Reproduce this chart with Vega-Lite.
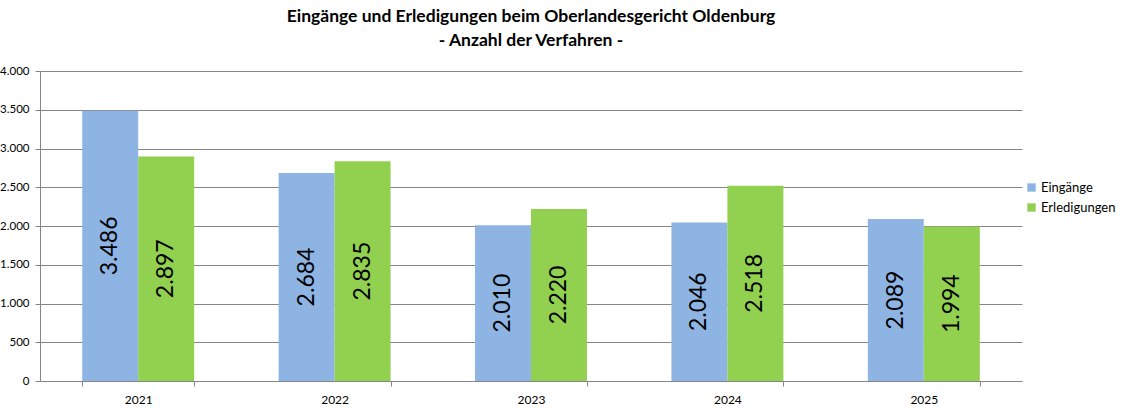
{
  "$schema": "https://vega.github.io/schema/vega-lite/v6.json",
  "autosize": {"type": "none"},
  "padding": {"left": 40, "top": 71, "right": 103, "bottom": 27},
  "width": 982,
  "height": 310,
  "title": {
    "text": ["Eingänge und Erledigungen beim Oberlandesgericht Oldenburg", "- Anzahl der Verfahren -"],
    "anchor": "middle",
    "font": "Lato",
    "fontSize": 17.5,
    "fontWeight": "bold",
    "color": "#000000",
    "lineHeight": 24,
    "offset": 16
  },
  "config": {
    "locale": {"number": {"decimal": ",", "thousands": ".", "grouping": [3], "currency": ["", " €"]}},
    "view": {"stroke": null},
    "font": "Lato"
  },
  "data": {
    "values": [
      {"jahr": "2021", "serie": "Eingänge", "wert": 3486},
      {"jahr": "2021", "serie": "Erledigungen", "wert": 2897},
      {"jahr": "2022", "serie": "Eingänge", "wert": 2684},
      {"jahr": "2022", "serie": "Erledigungen", "wert": 2835},
      {"jahr": "2023", "serie": "Eingänge", "wert": 2010},
      {"jahr": "2023", "serie": "Erledigungen", "wert": 2220},
      {"jahr": "2024", "serie": "Eingänge", "wert": 2046},
      {"jahr": "2024", "serie": "Erledigungen", "wert": 2518},
      {"jahr": "2025", "serie": "Eingänge", "wert": 2089},
      {"jahr": "2025", "serie": "Erledigungen", "wert": 1994}
    ]
  },
  "encoding": {
    "x": {
      "field": "jahr", "type": "nominal",
      "scale": {"paddingInner": 0.43, "paddingOuter": 0.215},
      "axis": {
        "title": null, "labelAngle": 0, "labelFontSize": 12, "labelColor": "#000000",
        "labelPadding": 8, "tickBand": "extent", "tickSize": 5, "tickColor": "#868686",
        "domainColor": "#868686", "grid": false
      }
    },
    "xOffset": {"field": "serie", "type": "nominal", "scale": {"paddingInner": 0, "paddingOuter": 0}}
  },
  "layer": [
    {
      "mark": {"type": "bar"},
      "encoding": {
        "y": {
          "field": "wert", "type": "quantitative",
          "scale": {"domain": [0, 4000], "nice": false},
          "axis": {
            "title": null, "values": [0, 500, 1000, 1500, 2000, 2500, 3000, 3500, 4000],
            "format": ",d", "labelFontSize": 11.5, "labelColor": "#000000", "labelPadding": 6,
            "tickSize": 5, "tickColor": "#868686", "domainColor": "#868686",
            "gridColor": "#868686", "gridWidth": 1
          }
        },
        "color": {
          "field": "serie", "type": "nominal",
          "scale": {"domain": ["Eingänge", "Erledigungen"], "range": ["#8EB4E3", "#92D050"]},
          "legend": {
            "title": null, "orient": "none", "legendX": 985, "legendY": 110,
            "symbolType": "square", "symbolSize": 70, "symbolStrokeWidth": 0,
            "labelFontSize": 13, "labelColor": "#000000", "rowPadding": 6, "labelOffset": 3
          }
        }
      }
    },
    {
      "mark": {"type": "text", "angle": 270, "align": "center", "baseline": "middle", "fontSize": 23, "font": "Lato", "color": "#000000"},
      "encoding": {
        "y": {
          "field": "wert", "type": "quantitative",
          "scale": {"domain": [0, 8000], "nice": false},
          "axis": null
        },
        "text": {"field": "wert", "type": "quantitative", "format": ",d"}
      }
    }
  ],
  "resolve": {"scale": {"y": "independent"}}
}
